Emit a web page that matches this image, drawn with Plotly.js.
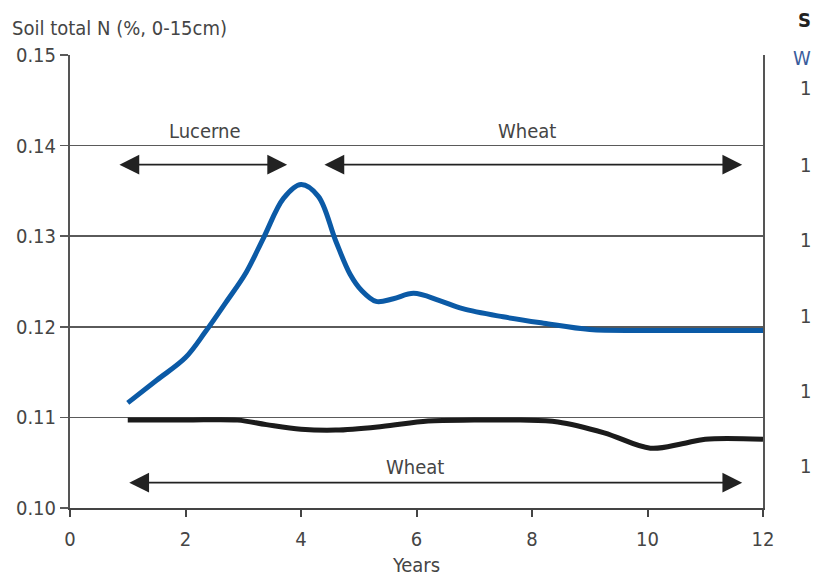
<!DOCTYPE html>
<html>
<head>
<meta charset="utf-8">
<script src="https://cdn.plot.ly/plotly-3.0.1.min.js"></script>
<style>html,body{margin:0;padding:0;background:#fff;}#chart{width:814px;height:578px;}</style>
</head>
<body>
<div id="chart"></div>
<script>
// Lucerne -> wheat rotation (blue)
const lucerneYears = [1, 1.5, 2, 2.35, 2.7, 3.05, 3.35, 3.7, 4.0, 4.3, 4.6, 4.85, 5.05, 5.3, 5.6, 5.95, 6.4, 6.8, 7.5, 8.2, 9.0, 10, 11, 12];
const lucerneN     = [0.1116, 0.1141, 0.1166, 0.1195, 0.1227, 0.1260, 0.1298, 0.1342, 0.1357, 0.1344, 0.1295, 0.1258, 0.1240, 0.1228, 0.1231, 0.1237, 0.1229, 0.1220, 0.1211, 0.1204, 0.1197, 0.1196, 0.1196, 0.1196];
// Continuous wheat (black)
const wheatYears = [1, 2, 2.9, 3.4, 4.0, 4.6, 5.4, 6.2, 7.0, 7.8, 8.45, 9.25, 10.05, 10.6, 11, 12];
const wheatN     = [0.1097, 0.1097, 0.1097, 0.1092, 0.1087, 0.1086, 0.1090, 0.1096, 0.1097, 0.1097, 0.1095, 0.1083, 0.1066, 0.1071, 0.1076, 0.1076];

// Period arrows: [start year, end year]
const lucernePeriod    = [0.83, 3.76];
const wheatAfterPeriod = [4.38, 11.64];
const wheatOnlyPeriod  = [1.0, 11.64];
const periodLabels = ["Lucerne", "Wheat", "Wheat"];
const topArrowLevel = 0.1379;
const topLabelLevel = 0.1416;
const bottomArrowLevel = 0.1028;
const bottomLabelLevel = 0.1045;

const xTicks = [0, 2, 4, 6, 8, 10, 12];
const yTicks = [0.10, 0.11, 0.12, 0.13, 0.14, 0.15];

// fragments of the neighbouring panel visible at the right edge
const edgeTexts = ['<b>S</b>', 'W', '1', '1', '1', '1', '1', '1'];

const FONT = '"DejaVu Sans Condensed", "Liberation Sans Narrow", sans-serif';
const TXT = '#454545';
const FS = 20;

const traces = [
  {x: lucerneYears, y: lucerneN, mode: 'lines', line: {color: '#0b5aa6', width: 5, shape: 'spline', smoothing: 1}, hoverinfo: 'skip', cliponaxis: false},
  {x: wheatYears, y: wheatN, mode: 'lines', line: {color: '#1b1b1b', width: 5, shape: 'spline', smoothing: 1}, hoverinfo: 'skip', cliponaxis: false}
];

function arrow(period, level) {
  return {x: period[1], y: level, ax: period[0], ay: level, xref: 'x', yref: 'y', axref: 'x', ayref: 'y',
    text: '', showarrow: true, arrowside: 'end+start', arrowhead: 2, startarrowhead: 2,
    arrowsize: 2.2, startarrowsize: 2.2, arrowwidth: 1.8, arrowcolor: '#222'};
}
function label(txt, xv, yv) {
  return {x: xv, y: yv, xref: 'x', yref: 'y', text: txt, showarrow: false,
    font: {family: FONT, size: FS, color: TXT}, xanchor: 'center', yanchor: 'middle'};
}
const edgeY = [1.077, 0.993, 0.927, 0.757, 0.592, 0.424, 0.258, 0.093];
const edgeColors = ['#222', '#3a5c9c', TXT, TXT, TXT, TXT, TXT, TXT];
function edge(i) {
  return {x: 1.0715, y: edgeY[i], xref: 'paper', yref: 'paper', text: edgeTexts[i], showarrow: false,
    xanchor: 'right', yanchor: 'middle', font: {family: FONT, size: FS, color: edgeColors[i]}};
}

const annotations = [
  arrow(lucernePeriod, topArrowLevel),
  arrow(wheatAfterPeriod, topArrowLevel),
  arrow(wheatOnlyPeriod, bottomArrowLevel),
  label(periodLabels[0], (lucernePeriod[0] + lucernePeriod[1]) / 2 + 0.04, topLabelLevel),
  label(periodLabels[1], (wheatAfterPeriod[0] + wheatAfterPeriod[1]) / 2 - 0.1, topLabelLevel),
  label(periodLabels[2], 5.98, bottomLabelLevel)
].concat(edgeTexts.map((t, i) => edge(i)));

const layout = {
  width: 814, height: 578, autosize: false,
  margin: {l: 70, r: 51, t: 55, b: 70, pad: 0},
  paper_bgcolor: '#fff', plot_bgcolor: '#fff',
  showlegend: false,
  font: {family: FONT, size: FS, color: TXT},
  title: {text: 'Soil total N (%, 0-15cm)', x: 12 / 814, xanchor: 'left', xref: 'container', y: 1 - 28 / 578, yanchor: 'middle', yref: 'container',
    font: {family: FONT, size: FS, color: TXT}},
  xaxis: {range: [0, 12], tickvals: xTicks, ticktext: xTicks.map(String), showgrid: false, zeroline: false,
    showline: true, linecolor: '#444', linewidth: 2, ticks: 'outside', ticklen: 7, tickwidth: 2, tickcolor: '#444',
    ticklabelstandoff: 5,
    tickfont: {family: FONT, size: FS, color: TXT},
    title: {text: 'Years', standoff: 8, font: {family: FONT, size: FS, color: TXT}}},
  yaxis: {range: [0.10, 0.15], tickvals: yTicks, ticktext: yTicks.map(v => v.toFixed(2)), showgrid: true, gridcolor: '#5a5a5a', gridwidth: 1.5,
    zeroline: false, showline: true, mirror: true, linecolor: '#555', linewidth: 2,
    ticks: 'outside', ticklen: 8, tickwidth: 1.5, tickcolor: '#5a5a5a',
    tickfont: {family: FONT, size: FS, color: TXT}},
  annotations: annotations
};

Plotly.newPlot('chart', traces, layout, {staticPlot: true, displayModeBar: false});
</script>
</body>
</html>
